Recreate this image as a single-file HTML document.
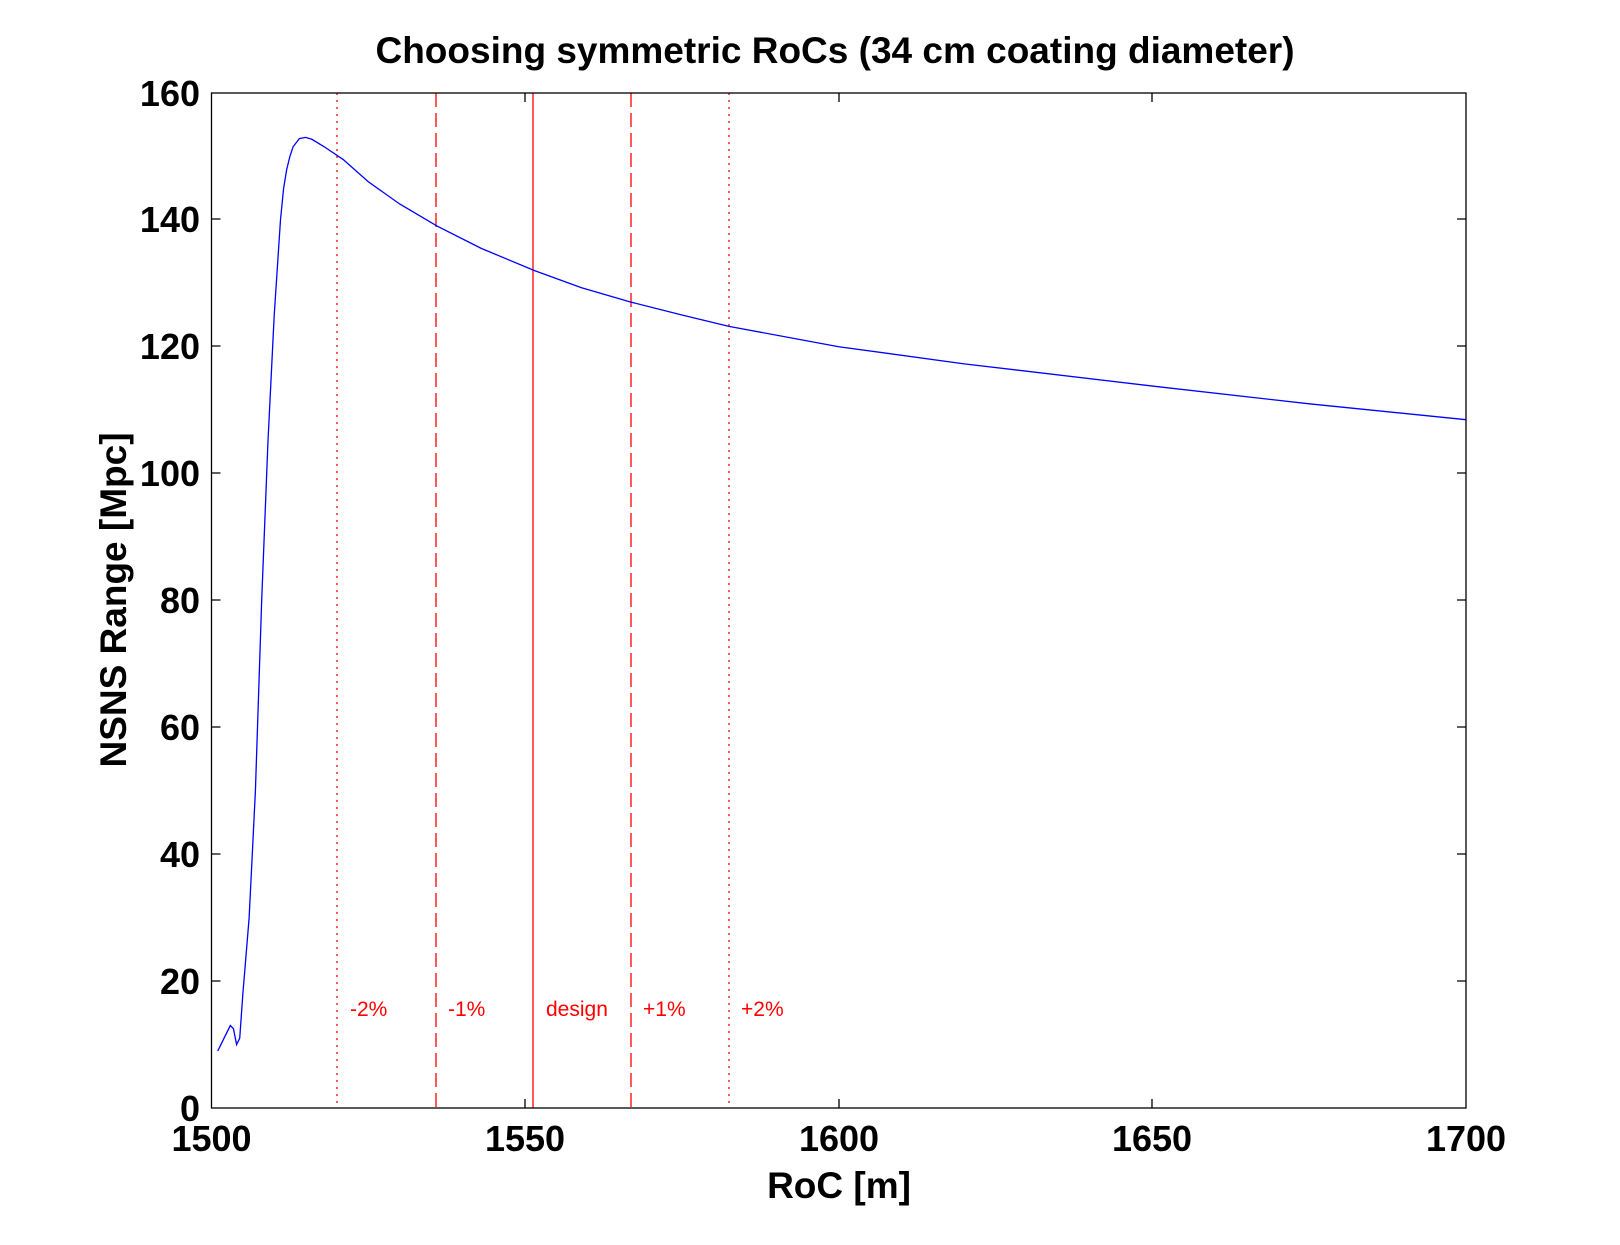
<!DOCTYPE html>
<html><head><style>body{margin:0;background:#fff}svg{display:block}</style></head><body>
<svg width="1620" height="1245" xmlns="http://www.w3.org/2000/svg" font-family="Liberation Sans, Arial, sans-serif">
<rect width="1620" height="1245" fill="#fff"/>
<g stroke="#f00" stroke-width="1.3">
<line x1="337" y1="93" x2="337" y2="1108" stroke-dasharray="2,5"/>
<line x1="436" y1="93" x2="436" y2="1108" stroke-dasharray="14,6"/>
<line x1="533" y1="93" x2="533" y2="1108"/>
<line x1="631" y1="93" x2="631" y2="1108" stroke-dasharray="14,6"/>
<line x1="729" y1="93" x2="729" y2="1108" stroke-dasharray="2,5"/>
</g>
<g fill="#f00" font-size="21">
<text x="350" y="1016">-2%</text>
<text x="448" y="1016">-1%</text>
<text x="546" y="1016">design</text>
<text x="643" y="1016">+1%</text>
<text x="741" y="1016">+2%</text>
</g>
<g transform="translate(211.5,1108) scale(6.2725,-6.344) translate(-1500,0)">
<polyline fill="none" stroke="#00f" stroke-width="1.3" vector-effect="non-scaling-stroke" points="1501,9 1502,11 1503,13 1503.5,12.5 1504,10 1504.5,11 1505,18 1506,30 1507,50 1508,80 1509,105 1510,125 1511,140 1511.5,145 1512,148 1512.5,150 1513,151.5 1514,152.8 1515,153 1516,152.7 1518,151.5 1521,149.5 1525,146 1530,142.5 1536,139 1543,135.5 1551.5,132 1559,129.3 1567,127 1575,125 1582.5,123.2 1600,120 1620,117.3 1650,113.8 1675,111 1700,108.5"/>
</g>
<rect x="211.5" y="93" width="1254.5" height="1015" fill="none" stroke="#000" stroke-width="1.3"/>
<g stroke="#000" stroke-width="1.3">
<path d="M525,1108v-9M525,93v9M839,1108v-9M839,93v9M1152,1108v-9M1152,93v9"/>
<path d="M211.5,981h9M1466,981h-9M211.5,854h9M1466,854h-9M211.5,727h9M1466,727h-9M211.5,600h9M1466,600h-9M211.5,473h9M1466,473h-9M211.5,346h9M1466,346h-9M211.5,219h9M1466,219h-9"/>
</g>
<g font-size="36" font-weight="bold" text-anchor="end">
<text x="200" y="1121">0</text>
<text x="200" y="994">20</text>
<text x="200" y="867">40</text>
<text x="200" y="740">60</text>
<text x="200" y="613">80</text>
<text x="200" y="486">100</text>
<text x="200" y="359">120</text>
<text x="200" y="232">140</text>
<text x="200" y="106">160</text>
</g>
<g font-size="36" font-weight="bold" text-anchor="middle">
<text x="211.5" y="1151">1500</text>
<text x="525" y="1151">1550</text>
<text x="839" y="1151">1600</text>
<text x="1152" y="1151">1650</text>
<text x="1466" y="1151">1700</text>
<text x="839" y="1198" font-size="37">RoC [m]</text>
<text x="835" y="63" font-size="37">Choosing symmetric RoCs (34 cm coating diameter)</text>
<text transform="translate(126,600) rotate(-90)" font-size="37">NSNS Range [Mpc]</text>
</g>
</svg>
</body></html>
